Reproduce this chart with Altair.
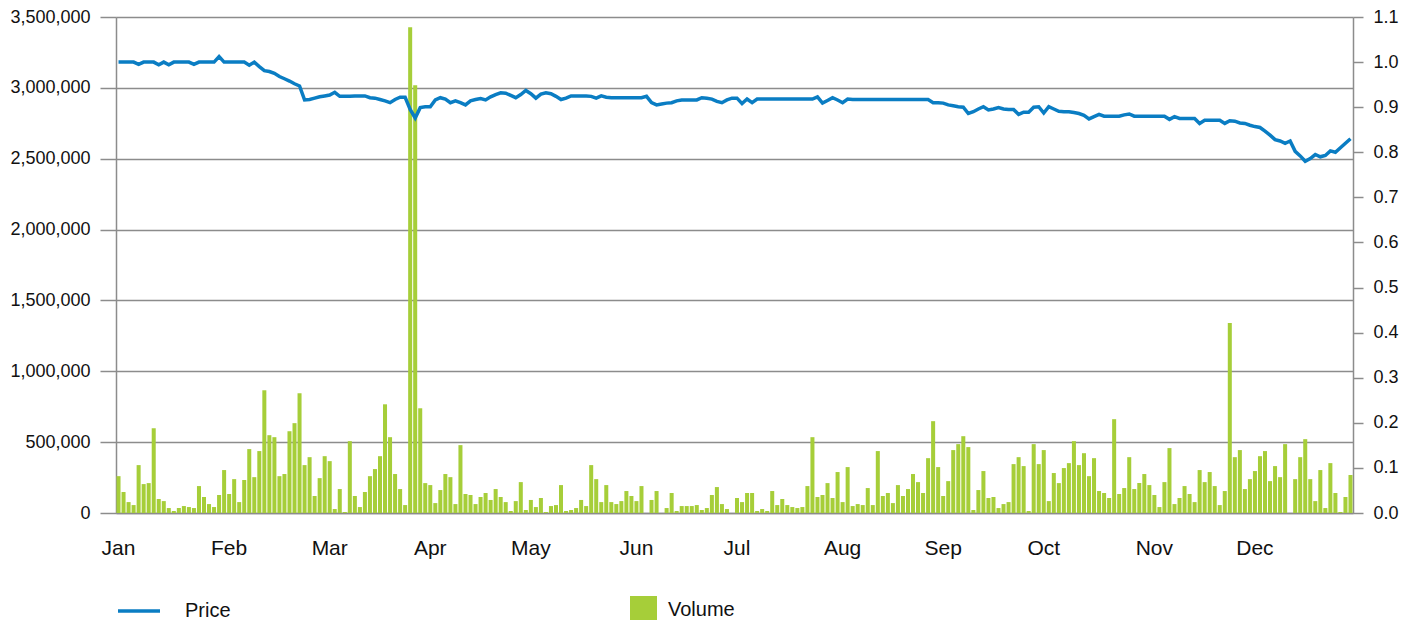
import altair as alt
import pandas as pd

# Daily trading volume (thousands of shares), one value per trading day
volume_k = [
    260, 148, 77, 56, 338, 204, 211, 598, 99, 84,
    35, 14, 35, 49, 42, 35, 190, 113, 63, 42,
    127, 303, 134, 239, 77, 232, 451, 253, 437, 866,
    549, 535, 260, 275, 577, 634, 845, 338, 394, 120,
    246, 401, 366, 28, 169, 7, 507, 120, 42, 148,
    260, 310, 401, 767, 535, 275, 169, 56, 3427, 3018,
    739, 211, 197, 70, 162, 275, 253, 63, 479, 134,
    127, 63, 113, 141, 92, 169, 113, 77, 14, 84,
    218, 21, 92, 42, 106, 7, 49, 56, 197, 14,
    21, 35, 92, 49, 338, 239, 77, 197, 77, 63,
    84, 155, 120, 84, 190, 0, 92, 155, 0, 35,
    141, 14, 49, 49, 49, 56, 21, 35, 127, 183,
    63, 28, 0, 106, 77, 141, 141, 14, 28, 14,
    155, 56, 99, 56, 42, 35, 42, 190, 535, 113,
    127, 211, 106, 289, 77, 324, 49, 63, 56, 176,
    56, 437, 120, 141, 70, 197, 120, 169, 275, 218,
    141, 387, 648, 324, 120, 225, 444, 486, 542, 465,
    21, 162, 296, 106, 113, 35, 63, 77, 345, 394,
    331, 14, 486, 345, 444, 84, 282, 211, 317, 352,
    507, 338, 422, 260, 387, 155, 141, 106, 662, 134,
    176, 394, 169, 211, 275, 197, 127, 42, 218, 458,
    63, 106, 190, 134, 77, 303, 218, 289, 190, 56,
    155, 1340, 394, 444, 169, 239, 296, 401, 437, 225,
    331, 253, 486, 0, 239, 394, 521, 239, 84, 303,
    35, 352, 141, 7, 113, 268,
]

# Daily closing price
price = [
    1.0, 1.0, 1.0, 1.0, 0.995, 1.0, 1.0, 1.0, 0.994, 1.0,
    0.994, 1.0, 1.0, 1.0, 1.0, 0.995, 1.0, 1.0, 1.0, 1.0,
    1.012, 1.0, 1.0, 1.0, 1.0, 1.0, 0.993, 1.0, 0.99, 0.981,
    0.979, 0.975, 0.968, 0.963, 0.958, 0.952, 0.947, 0.916, 0.917, 0.920,
    0.923, 0.925, 0.927, 0.933, 0.924, 0.924, 0.924, 0.925, 0.925, 0.925,
    0.921, 0.920, 0.917, 0.914, 0.910, 0.917, 0.922, 0.922, 0.895, 0.876,
    0.899, 0.901, 0.901, 0.916, 0.921, 0.918, 0.910, 0.914, 0.910, 0.905,
    0.914, 0.917, 0.919, 0.916, 0.923, 0.928, 0.932, 0.931, 0.926, 0.921,
    0.928, 0.937, 0.930, 0.920, 0.929, 0.932, 0.930, 0.924, 0.917, 0.920,
    0.925, 0.925, 0.925, 0.925, 0.924, 0.920, 0.925, 0.922, 0.921, 0.921,
    0.921, 0.921, 0.921, 0.921, 0.921, 0.924, 0.910, 0.905, 0.907, 0.909,
    0.910, 0.914, 0.916, 0.916, 0.916, 0.916, 0.921, 0.920, 0.918, 0.913,
    0.910, 0.916, 0.920, 0.920, 0.908, 0.918, 0.910, 0.918, 0.918, 0.918,
    0.918, 0.918, 0.918, 0.918, 0.918, 0.918, 0.918, 0.918, 0.918, 0.923,
    0.909, 0.915, 0.921, 0.916, 0.910, 0.918, 0.917, 0.917, 0.917, 0.917,
    0.917, 0.917, 0.917, 0.917, 0.917, 0.917, 0.917, 0.917, 0.917, 0.917,
    0.917, 0.917, 0.910, 0.910, 0.909, 0.905, 0.903, 0.901, 0.900, 0.886,
    0.890, 0.896, 0.901, 0.894, 0.896, 0.899, 0.896, 0.895, 0.895, 0.884,
    0.889, 0.889, 0.900, 0.901, 0.887, 0.901, 0.896, 0.891, 0.890, 0.890,
    0.888, 0.886, 0.882, 0.874, 0.879, 0.884, 0.880, 0.880, 0.880, 0.880,
    0.883, 0.885, 0.880, 0.880, 0.880, 0.880, 0.880, 0.880, 0.880, 0.873,
    0.879, 0.875, 0.875, 0.875, 0.875, 0.864, 0.871, 0.871, 0.871, 0.871,
    0.864, 0.870, 0.869, 0.865, 0.864, 0.860, 0.857, 0.855, 0.847, 0.838,
    0.828, 0.825, 0.820, 0.825, 0.802, 0.792, 0.780, 0.786, 0.795, 0.790,
    0.793, 0.803, 0.800, 0.810, 0.820, 0.830,
]

month_names = ["Jan", "Feb", "Mar", "Apr", "May", "Jun",
               "Jul", "Aug", "Sep", "Oct", "Nov", "Dec"]
month_start = [0, 22, 42, 62, 82, 103, 123, 144, 164, 184, 206, 226]

left_ticks = [0, 500000, 1000000, 1500000, 2000000, 2500000, 3000000, 3500000]
right_ticks = [0.0, 0.1, 0.2, 0.3, 0.4, 0.5, 0.6, 0.7, 0.8, 0.9, 1.0, 1.1]

n = len(price)
df = pd.DataFrame({
    "day": list(range(n)),
    "volume": [v * 1000 for v in volume_k],
    "price": price,
})

FONT = "Liberation Sans"
GRID = "#8c8c8c"
GREEN = "#a6ce39"
BLUE = "#0a7dc3"
TXT = "#111111"

label_expr = "[{}][indexof([{}], datum.value)]".format(
    ",".join("'{}'".format(m) for m in month_names),
    ",".join(str(i) for i in month_start),
)

x_enc = alt.X(
    "day:O",
    scale=alt.Scale(domain=list(range(n)), paddingInner=0.2, paddingOuter=0.1),
    axis=alt.Axis(
        values=month_start, labelExpr=label_expr, title=None, ticks=False,
        labelAngle=0, labelFontSize=21, labelPadding=24, labelFont=FONT,
        labelColor=TXT, domainColor=GRID, domainWidth=1.5, grid=False,
    ),
)

bars = alt.Chart(df).transform_calculate(series="'Volume'").mark_bar(
    color=GREEN
).encode(
    x=x_enc,
    y=alt.Y(
        "volume:Q",
        scale=alt.Scale(domain=[0, 3500000], nice=False, zero=True),
        axis=alt.Axis(
            orient="left", values=left_ticks,
            labelExpr="format(datum.value, ',.0f')", title=None,
            grid=True, gridColor=GRID, gridWidth=1.5,
            tickSize=16, tickColor=GRID, tickWidth=1.5,
            labelPadding=10, labelFontSize=18, labelFont=FONT, labelColor=TXT,
            domainColor=GRID, domainWidth=1.5,
        ),
    ),
    color=alt.Color(
        "series:N",
        scale=alt.Scale(domain=["Volume"], range=[GREEN]),
        legend=alt.Legend(
            orient="none", legendX=514, legendY=579, title=None,
            symbolType="square", symbolSize=729, symbolStrokeWidth=0,
            labelFontSize=20, labelFont=FONT, labelColor=TXT, labelOffset=11,
        ),
    ),
)

line = alt.Chart(df).transform_calculate(series="'Price'").mark_line(
    strokeWidth=3.5, color=BLUE
).encode(
    x=x_enc,
    y=alt.Y(
        "price:Q",
        scale=alt.Scale(domain=[0, 1.1], nice=False, zero=True),
        axis=alt.Axis(
            orient="right", values=right_ticks, format=".1f", title=None,
            grid=False, tickSize=10, tickColor=GRID, tickWidth=1.5,
            labelPadding=10, labelFontSize=18, labelFont=FONT, labelColor=TXT,
            domainColor=GRID, domainWidth=1.5,
        ),
    ),
    color=alt.Color(
        "series:N",
        scale=alt.Scale(domain=["Price"], range=[BLUE]),
        legend=alt.Legend(
            orient="none", legendX=0, legendY=571, title=None,
            symbolType="stroke", symbolSize=1764, symbolStrokeWidth=3.5,
            labelFontSize=20, labelFont=FONT, labelColor=TXT, labelOffset=23,
        ),
    ),
)

chart = alt.layer(bars, line).resolve_scale(
    y="independent", color="independent"
).properties(
    width=1237, height=496,
    autosize=alt.AutoSizeParams(type="none"),
    padding={"left": 108, "top": 9, "right": 50, "bottom": 107},
).configure_view(stroke=None).configure(background="white")

chart.save("out.html", embed_options={"renderer": "svg", "actions": False})
